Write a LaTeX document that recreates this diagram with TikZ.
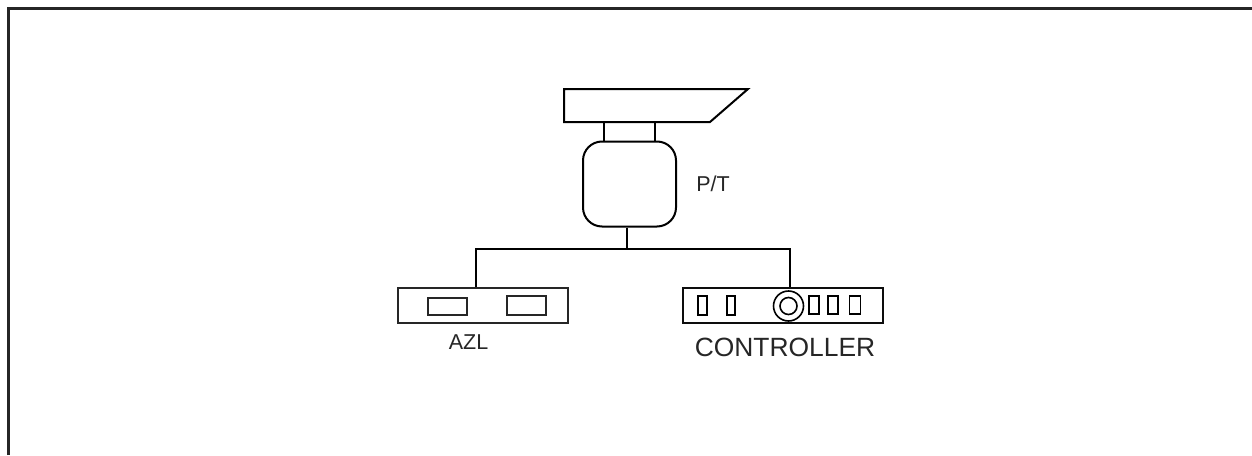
\documentclass[tikz,border=0pt]{standalone}
\usepackage{fontspec}
\setmainfont{Liberation Sans}
\tikzset{
  x=1pt,y=-1pt,
  frameline/.style={line width=3pt,color=black!85},
  wire/.style={line width=2pt,black},
  azlbox/.style={line width=2pt,black!85},
  ctlbox/.style={line width=2pt,black!95},
  thinbox/.style={line width=1.6pt,black},
  lab/.style={inner sep=0pt,text=black!85},
}
\begin{document}
\begin{tikzpicture}
\useasboundingbox (0,0) rectangle (1252,455);
\fill[white] (0,0) rectangle (1252,455);
\coordinate (fbl) at (8.5,455);
\coordinate (ftl) at (8.5,8);
\coordinate (ftr) at (1252,8);
\draw[frameline] (fbl) -- (ftl) -- (ftr);
% camera housing
\coordinate (h1) at (564,89);
\coordinate (h2) at (748,89);
\coordinate (h3) at (710,122);
\coordinate (h4) at (564,122);
\draw[wire,line join=miter] (h1) -- (h2) -- (h3) -- (h4) -- cycle;
% pan/tilt
\node[draw,wire,rounded corners=19pt,minimum width=93pt,minimum height=85pt,inner sep=0pt] (pt) at (629.5,184) {};
\coordinate (n1a) at (604,122);
\coordinate (n1b) at (604,141.5);
\coordinate (n2a) at (655,122);
\coordinate (n2b) at (655,141.5);
\draw[wire] (n1a) -- (n1b);
\draw[wire] (n2a) -- (n2b);
\node[lab,font=\fontsize{21.5}{24}\selectfont] (ptl) at (713,184) {P/T};
% AZL
\node[draw,azlbox,minimum width=170pt,minimum height=35pt,inner sep=0pt] (azl) at (482.5,305) {};
\node[draw,azlbox,minimum width=39pt,minimum height=17.5pt,inner sep=0pt] (a1) at (447.5,306.5) {};
\node[draw,azlbox,minimum width=39pt,minimum height=19.5pt,inner sep=0pt] (a2) at (526.5,305.5) {};
\node[lab,font=\fontsize{21.5}{24}\selectfont] (azll) at (468.5,342) {AZL};
% Controller
\node[draw,ctlbox,minimum width=200pt,minimum height=35pt,inner sep=0pt] (ctl) at (783,305) {};
\node[draw,thinbox,minimum width=8.5pt,minimum height=19pt,inner sep=0pt] (c1) at (702.5,305.5) {};
\node[draw,thinbox,minimum width=8.5pt,minimum height=19pt,inner sep=0pt] (c2) at (731,305.5) {};
\node[draw,thinbox,circle,minimum size=30pt,inner sep=0pt] (c3) at (788.5,306) {};
\node[draw,thinbox,circle,minimum size=17pt,inner sep=0pt] (c4) at (788.5,306) {};
\node[draw,thinbox,minimum width=10pt,minimum height=18pt,inner sep=0pt] (c5) at (814,305) {};
\node[draw,thinbox,minimum width=10pt,minimum height=18pt,inner sep=0pt] (c6) at (833,305) {};
\node[draw,thinbox,minimum width=11pt,minimum height=18pt,inner sep=0pt] (c7) at (855,305) {};
\node[lab,font=\fontsize{26.4}{30}\selectfont] (ctll) at (785,347) {CONTROLLER};
% wiring
\coordinate (j) at (627,248.5);
\draw[wire] (pt.south -| j) -- (j);
\draw[wire] (azl.north -| 476,0) |- (j);
\draw[wire] (ctl.north -| 790,0) |- (j);
\end{tikzpicture}
\end{document}
